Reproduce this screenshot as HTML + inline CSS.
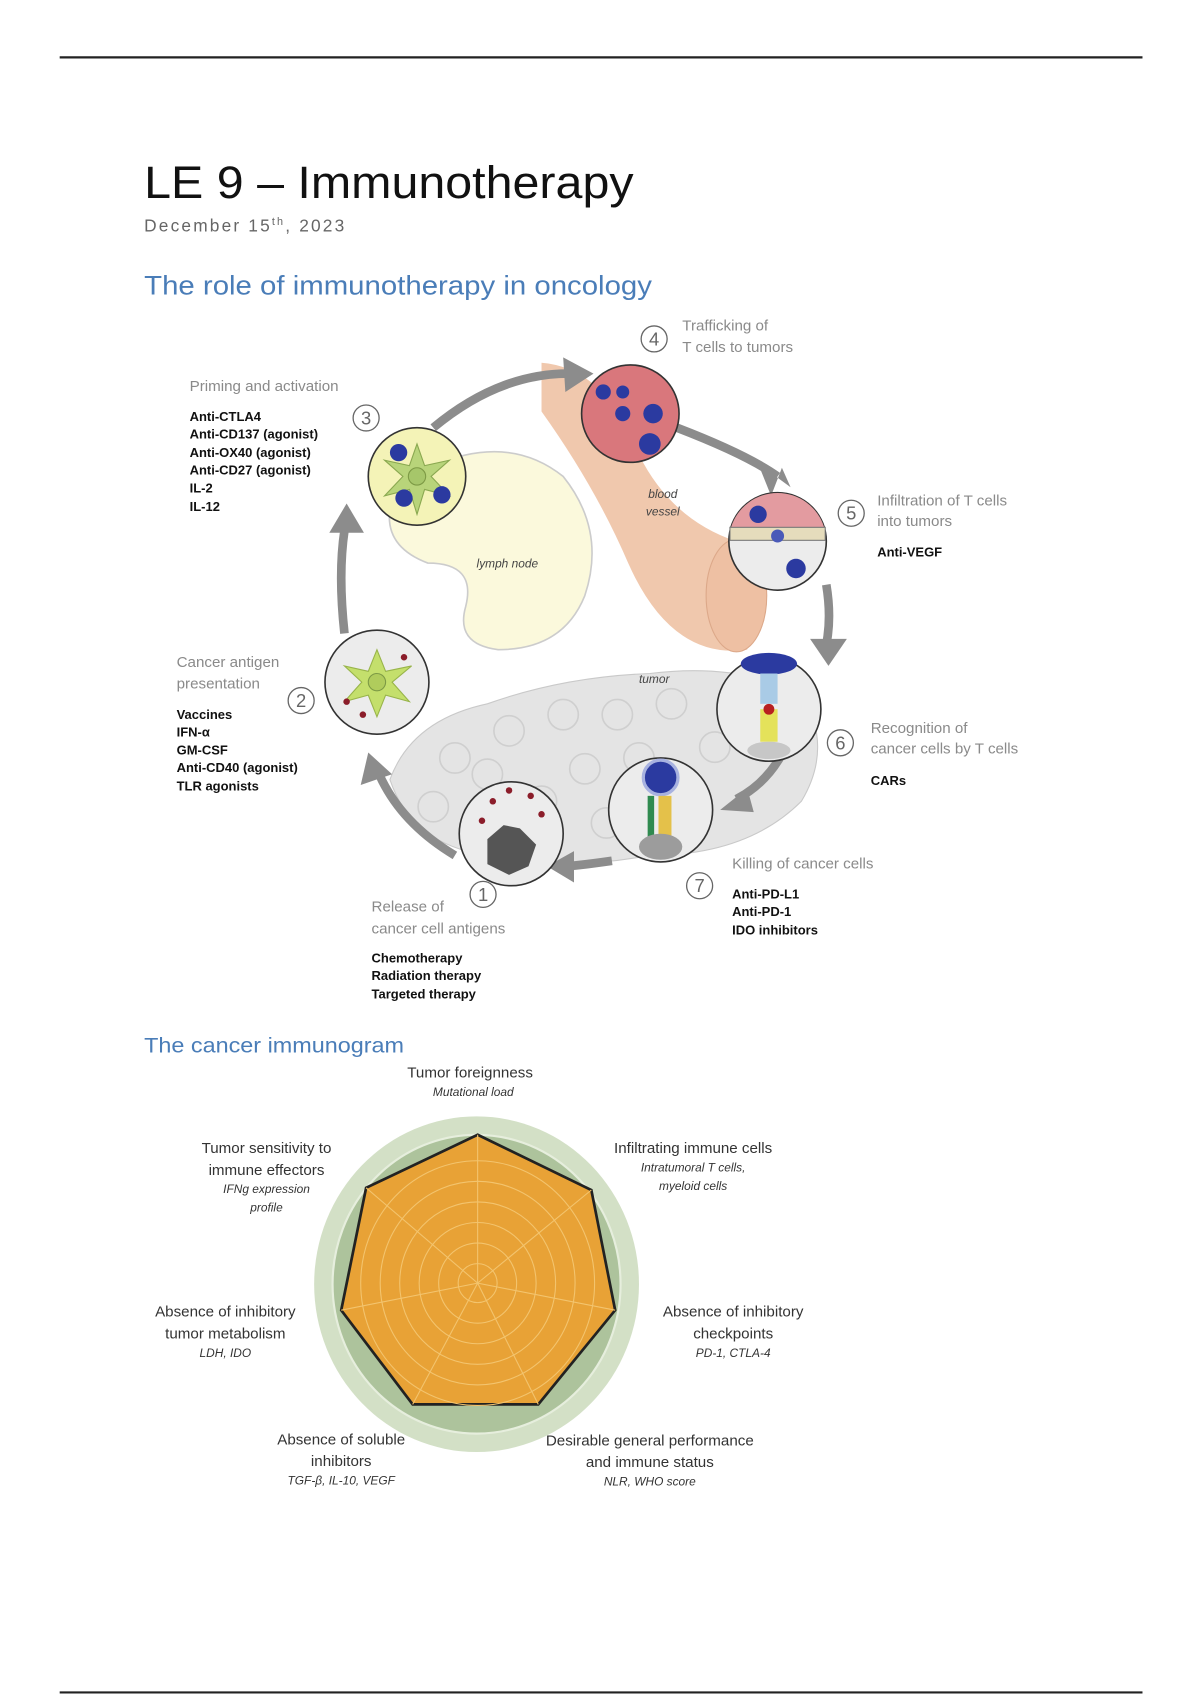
<!DOCTYPE html>
<html><head><meta charset="utf-8"><style>
html,body{margin:0;padding:0;background:#fff;}
svg{display:block;}
text{font-family:"Liberation Sans",sans-serif;}
.g{fill:#8a8a8a;font-size:14px;}
.b{fill:#111;font-size:12px;font-weight:bold;}
.rl{fill:#333;font-size:14px;text-anchor:middle;}
.ri{fill:#333;font-size:11px;font-style:italic;text-anchor:middle;}
</style></head><body>
<svg width="1200" height="1700" viewBox="0 0 1108 1570" xmlns="http://www.w3.org/2000/svg">
<rect width="1108" height="1570" fill="#fff"/>
<line x1="55" y1="53" x2="1055" y2="53" stroke="#222" stroke-width="2"/>
<line x1="55" y1="1563" x2="1055" y2="1563" stroke="#222" stroke-width="2"/>
<text x="133" y="183" font-size="42" fill="#111" textLength="452" lengthAdjust="spacingAndGlyphs">LE 9 – Immunotherapy</text>
<text x="133" y="214" font-size="16" fill="#666" letter-spacing="2">December 15<tspan font-size="10" dy="-6">th</tspan><tspan dy="6">, 2023</tspan></text>
<text x="133" y="272" font-size="25" fill="#4a7db8" textLength="469" lengthAdjust="spacingAndGlyphs">The role of immunotherapy in oncology</text>

<!-- tumor cloud -->
<path d="M360,720 Q380,665 450,650 Q520,625 600,622 Q680,612 740,640 Q770,690 740,740 Q690,790 600,790 Q520,805 450,790 Q380,780 360,720Z" fill="#e4e4e4" stroke="#c9c9c9"/>
<g fill="none" stroke="#cfcfcf" stroke-width="1.5">
<circle cx="420" cy="700" r="14"/><circle cx="470" cy="675" r="14"/><circle cx="520" cy="660" r="14"/><circle cx="570" cy="660" r="14"/><circle cx="620" cy="650" r="14"/><circle cx="660" cy="690" r="14"/><circle cx="540" cy="710" r="14"/><circle cx="590" cy="700" r="14"/><circle cx="500" cy="740" r="14"/><circle cx="560" cy="760" r="14"/><circle cx="400" cy="745" r="14"/><circle cx="450" cy="715" r="14"/><circle cx="630" cy="725" r="14"/><circle cx="690" cy="655" r="12"/></g>
<text x="590" y="631" font-size="11" font-style="italic" fill="#444">tumor</text>
<!-- lymph node -->
<path d="M400,430 Q470,400 520,440 Q560,490 540,550 Q520,600 460,600 Q420,595 430,560 Q440,520 395,520 Q355,505 360,470 Z" fill="#fbf9dc" stroke="#ccc" stroke-width="1.5"/>
<text x="440" y="524" font-size="11" font-style="italic" fill="#444">lymph node</text>
<!-- blood vessel -->
<path d="M500,335 Q560,340 590,420 Q620,480 680,500 L690,600 Q620,610 580,520 Q550,450 500,380Z" fill="#f0c8ad"/>
<ellipse cx="680" cy="550" rx="28" ry="52" fill="#eec0a3" stroke="#dca889"/>
<text x="612" y="460" font-size="11" font-style="italic" fill="#444" text-anchor="middle">blood</text>
<text x="612" y="476" font-size="11" font-style="italic" fill="#444" text-anchor="middle">vessel</text>

<!-- arrows -->
<g fill="none" stroke="#8c8c8c" stroke-width="8">
<path d="M400,395 Q460,345 525,345"/>
<path d="M625,395 Q690,420 718,440"/>
<path d="M763,540 Q768,570 763,595"/>
<path d="M720,700 Q705,725 680,738"/>
<path d="M565,795 Q530,800 520,800"/>
<path d="M420,790 Q370,760 350,715"/>
<path d="M318,585 Q312,530 318,490"/>
</g>
<g fill="#8c8c8c">
<polygon points="548,345 520,330 522,362"/>
<polygon points="730,450 700,428 712,458 722,432"/>
<polygon points="765,615 748,590 782,590"/>
<polygon points="665,748 690,728 696,750"/>
<polygon points="505,800 530,786 530,815"/>
<polygon points="340,695 333,725 362,715"/>
<polygon points="320,465 304,492 336,492"/>
</g>

<!-- circles -->
<circle cx="385" cy="440" r="45" fill="#f4f3b7" stroke="#333" stroke-width="1.5"/>
<path d="M385,410 L392,430 L415,425 L398,440 L415,458 L392,452 L385,475 L378,452 L355,458 L372,440 L355,425 L378,430Z" fill="#b8d47a" stroke="#8aa850"/>
<circle cx="385" cy="440" r="8" fill="#a6c66a" stroke="#7d9a45"/>
<circle cx="368" cy="418" r="8" fill="#2b3aa0"/><circle cx="373" cy="460" r="8" fill="#2b3aa0"/><circle cx="408" cy="457" r="8" fill="#2b3aa0"/>

<circle cx="582" cy="382" r="45" fill="#d9777c" stroke="#333" stroke-width="1.5"/>
<circle cx="557" cy="362" r="7" fill="#2b3aa0"/><circle cx="575" cy="362" r="6" fill="#2b3aa0"/><circle cx="575" cy="382" r="7" fill="#2b3aa0"/><circle cx="603" cy="382" r="9" fill="#2b3aa0"/><circle cx="600" cy="410" r="10" fill="#2b3aa0"/>

<circle cx="718" cy="500" r="45" fill="#ececec" stroke="#333" stroke-width="1.5"/>
<path d="M675,487 A45,45 0 0 1 761,487Z" fill="#e39ba0"/>
<rect x="674" y="487" width="88" height="12" fill="#e5dcbc" stroke="#777"/>
<circle cx="700" cy="475" r="8" fill="#2b3aa0"/><circle cx="718" cy="495" r="6" fill="#4a5ab8"/><circle cx="735" cy="525" r="9" fill="#2b3aa0"/>

<circle cx="710" cy="655" r="48" fill="#ececec" stroke="#333" stroke-width="1.5"/>
<ellipse cx="710" cy="613" rx="26" ry="10" fill="#2b3aa0"/>
<rect x="702" y="622" width="16" height="28" fill="#a9cbe6"/><rect x="702" y="655" width="16" height="30" fill="#e4e25a"/><circle cx="710" cy="655" r="5" fill="#b82020"/>
<ellipse cx="710" cy="693" rx="20" ry="8" fill="#c7c7c7"/>

<circle cx="610" cy="748" r="48" fill="#ececec" stroke="#333" stroke-width="1.5"/>
<circle cx="610" cy="718" r="16" fill="#2b3aa0" stroke="#a8b2e0" stroke-width="3"/>
<rect x="598" y="735" width="6" height="38" fill="#2f8a4f"/><rect x="608" y="735" width="12" height="38" fill="#e4c14a"/>
<ellipse cx="610" cy="782" rx="20" ry="12" fill="#9c9c9c"/>

<circle cx="472" cy="770" r="48" fill="#ececec" stroke="#333" stroke-width="1.5"/>
<path d="M450,775 L465,762 L480,765 L495,780 L488,800 L470,808 L450,798Z" fill="#555"/>
<g fill="#8b1d2a"><circle cx="455" cy="740" r="3"/><circle cx="470" cy="730" r="3"/><circle cx="490" cy="735" r="3"/><circle cx="500" cy="752" r="3"/><circle cx="445" cy="758" r="3"/></g>

<circle cx="348" cy="630" r="48" fill="#ececec" stroke="#333" stroke-width="1.5"/>
<path d="M348,600 L356,620 L380,615 L362,630 L378,648 L356,642 L348,662 L340,642 L318,648 L334,630 L318,615 L340,620Z" fill="#c4df6c" stroke="#98b44a"/>
<circle cx="348" cy="630" r="8" fill="#b0cc5c" stroke="#7d9a45"/>
<g fill="#8b1d2a"><circle cx="373" cy="607" r="3"/><circle cx="320" cy="648" r="3"/><circle cx="335" cy="660" r="3"/></g>

<!-- numbers -->
<g fill="#fff" stroke="#666" stroke-width="1.2">
<circle cx="338" cy="386" r="12"/><circle cx="604" cy="313" r="12"/><circle cx="786" cy="474" r="12"/><circle cx="776" cy="686" r="12"/><circle cx="646" cy="818" r="12"/><circle cx="446" cy="826" r="12"/><circle cx="278" cy="647" r="12"/></g>
<g font-size="17" fill="#666" text-anchor="middle">
<text x="338" y="392">3</text><text x="604" y="319">4</text><text x="786" y="480">5</text><text x="776" y="692">6</text><text x="646" y="824">7</text><text x="446" y="832">1</text><text x="278" y="653">2</text></g>

<g>
<text class="g" x="175" y="361">Priming and activation</text>
<text class="b" x="175" y="389">Anti-CTLA4</text><text class="b" x="175" y="405">Anti-CD137 (agonist)</text><text class="b" x="175" y="422">Anti-OX40 (agonist)</text><text class="b" x="175" y="438">Anti-CD27 (agonist)</text><text class="b" x="175" y="455">IL-2</text><text class="b" x="175" y="472">IL-12</text>
<text class="g" x="630" y="305">Trafficking of</text><text class="g" x="630" y="325">T cells to tumors</text>
<text class="g" x="810" y="467">Infiltration of T cells</text><text class="g" x="810" y="486">into tumors</text><text class="b" x="810" y="514">Anti-VEGF</text>
<text class="g" x="804" y="677">Recognition of</text><text class="g" x="804" y="696">cancer cells by T cells</text><text class="b" x="804" y="725">CARs</text>
<text class="g" x="676" y="802">Killing of cancer cells</text><text class="b" x="676" y="830">Anti-PD-L1</text><text class="b" x="676" y="846">Anti-PD-1</text><text class="b" x="676" y="863">IDO inhibitors</text>
<text class="g" x="343" y="842">Release of</text><text class="g" x="343" y="862">cancer cell antigens</text>
<text class="b" x="343" y="889">Chemotherapy</text><text class="b" x="343" y="905">Radiation therapy</text><text class="b" x="343" y="922">Targeted therapy</text>
<text class="g" x="163" y="616">Cancer antigen</text><text class="g" x="163" y="636">presentation</text>
<text class="b" x="163" y="664">Vaccines</text><text class="b" x="163" y="680">IFN-α</text><text class="b" x="163" y="697">GM-CSF</text><text class="b" x="163" y="713">Anti-CD40 (agonist)</text><text class="b" x="163" y="730">TLR agonists</text>
</g>

<text x="133" y="972" font-size="20" fill="#4a7db8" textLength="240" lengthAdjust="spacingAndGlyphs">The cancer immunogram</text>

<!-- radar -->
<ellipse cx="440" cy="1186" rx="150" ry="155" fill="#d3e0c6"/>
<ellipse cx="440" cy="1186" rx="133" ry="138" fill="#adc39c" stroke="#e6eedd" stroke-width="2"/>
<polygon points="441,1048 546,1099 568,1210 497,1297 381,1297 315,1210 338,1097" fill="#e8a236" stroke="#222" stroke-width="2.5"/>
<g fill="none" stroke="#f3c46e" stroke-width="1">
<ellipse cx="441" cy="1185" rx="18" ry="18"/><ellipse cx="441" cy="1185" rx="36" ry="37"/><ellipse cx="441" cy="1185" rx="54" ry="56"/><ellipse cx="441" cy="1185" rx="72" ry="75"/><ellipse cx="441" cy="1185" rx="90" ry="94"/><ellipse cx="441" cy="1185" rx="108" ry="113"/>
<line x1="441" y1="1185" x2="441" y2="1048"/><line x1="441" y1="1185" x2="546" y2="1099"/><line x1="441" y1="1185" x2="568" y2="1210"/><line x1="441" y1="1185" x2="497" y2="1297"/><line x1="441" y1="1185" x2="381" y2="1297"/><line x1="441" y1="1185" x2="315" y2="1210"/><line x1="441" y1="1185" x2="338" y2="1097"/></g>

<g>
<text class="rl" x="434" y="995">Tumor foreignness</text><text class="ri" x="437" y="1012">Mutational load</text>
<text class="rl" x="246" y="1065">Tumor sensitivity to</text><text class="rl" x="246" y="1085">immune effectors</text><text class="ri" x="246" y="1102">IFNg expression</text><text class="ri" x="246" y="1119">profile</text>
<text class="rl" x="640" y="1065">Infiltrating immune cells</text><text class="ri" x="640" y="1082">Intratumoral T cells,</text><text class="ri" x="640" y="1099">myeloid cells</text>
<text class="rl" x="208" y="1216">Absence of inhibitory</text><text class="rl" x="208" y="1236">tumor metabolism</text><text class="ri" x="208" y="1253">LDH, IDO</text>
<text class="rl" x="677" y="1216">Absence of inhibitory</text><text class="rl" x="677" y="1236">checkpoints</text><text class="ri" x="677" y="1253">PD-1, CTLA-4</text>
<text class="rl" x="315" y="1334">Absence of soluble</text><text class="rl" x="315" y="1354">inhibitors</text><text class="ri" x="315" y="1371">TGF-β, IL-10, VEGF</text>
<text class="rl" x="600" y="1335">Desirable general performance</text><text class="rl" x="600" y="1355">and immune status</text><text class="ri" x="600" y="1372">NLR, WHO score</text>
</g>
</svg>
</body></html>
